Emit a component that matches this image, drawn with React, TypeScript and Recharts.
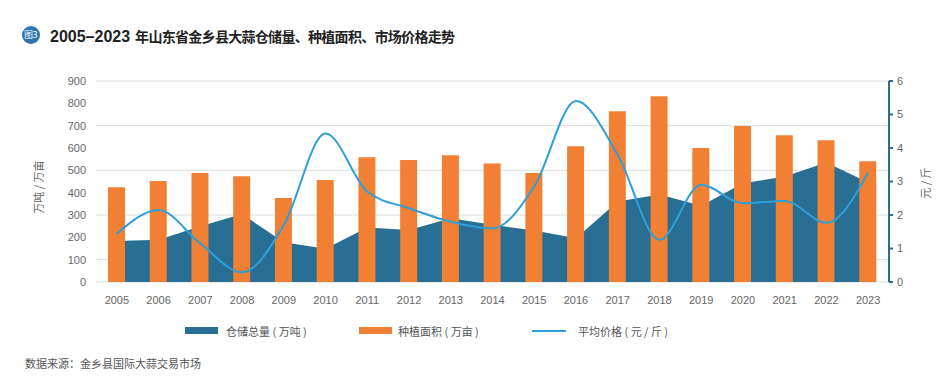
import React from 'react';
import { ComposedChart, Area, Bar, Line, XAxis, YAxis, CartesianGrid } from 'recharts';

const years = ['2005', '2006', '2007', '2008', '2009', '2010', '2011', '2012', '2013', '2014', '2015', '2016', '2017', '2018', '2019', '2020', '2021', '2022', '2023'];
const storage = [184, 189, 250, 304, 178, 149, 244, 233, 286, 256, 231, 196, 361, 392, 341, 442, 472, 535, 446];
const plantingArea = [424, 452, 488, 474, 376, 457, 559, 546, 568, 531, 488, 608, 765, 832, 600, 698, 657, 635, 541];
const price = [1.44, 2.15, 1.15, 0.29, 1.7, 4.43, 2.7, 2.2, 1.8, 1.6, 2.85, 5.4, 3.8, 1.26, 2.9, 2.35, 2.42, 1.77, 3.26];
const leftTicks = [0, 100, 200, 300, 400, 500, 600, 700, 800, 900];
const rightTicks = [0, 1, 2, 3, 4, 5, 6];

const titleDigits = '2005–2023';
const titleText = '年山东省金乡县大蒜仓储量、种植面积、市场价格走势';
const leftAxisTitle = '万吨 / 万亩';
const rightAxisTitle = '元 / 斤';
const sourceText = '数据来源：金乡县国际大蒜交易市场';

const C_AREA = '#286f93';
const C_BAR = '#f17f34';
const C_LINE = '#2e9fd7';
const C_AXIS = '#2b6d8e';

const legendItems = [
  { label: '仓储总量 ( 万吨 )', color: C_AREA, kind: 'rect', x: 185, tx: 226 },
  { label: '种植面积 ( 万亩 )', color: C_BAR, kind: 'rect', x: 359, tx: 398 },
  { label: '平均价格 ( 元 / 斤 )', color: C_LINE, kind: 'line', x: 532, tx: 578 },
];

const data = years.map((y, i) => ({ year: y, storage: storage[i], area: plantingArea[i], price: price[i] }));

const SANS = '"Liberation Sans", Arial, sans-serif';
const CJK = '"Noto Sans CJK SC", "Noto Sans", sans-serif';

export default function App() {
  return (
    <div style={{ position: 'absolute', left: 0, top: 0, width: 952, height: 377, background: '#fff', overflow: 'hidden' }}>
      <div style={{ position: 'absolute', left: 0, top: 0 }}>
        <ComposedChart width={952} height={377} data={data} margin={{ top: 81, right: 0, bottom: 65, left: 0 }}>
          <CartesianGrid yAxisId="left" vertical={false} stroke="#dcdcdc" strokeWidth={1} />
          <XAxis dataKey="year" tickLine={false} axisLine={false} tickSize={0} tickMargin={14} height={30} interval={0}
            tick={{ fontSize: 11, fill: '#666', fontFamily: SANS }} />
          <YAxis yAxisId="left" domain={[0, 900]} ticks={leftTicks} width={96} axisLine={false} tickLine={false}
            tickSize={0} tickMargin={10} tick={{ fontSize: 11, fill: '#666', fontFamily: SANS }} />
          <YAxis yAxisId="right" orientation="right" domain={[0, 6]} ticks={rightTicks} width={63}
            axisLine={{ stroke: C_AXIS, strokeWidth: 2 }} tickLine={{ stroke: C_AXIS, strokeWidth: 2 }}
            tickSize={4} tickMargin={4} tick={{ fontSize: 11, fill: '#666', fontFamily: SANS }} />
          <Area yAxisId="left" type="linear" dataKey="storage" fill={C_AREA} fillOpacity={1} stroke="none" isAnimationActive={false} />
          <Bar yAxisId="left" dataKey="area" fill={C_BAR} barSize={17} isAnimationActive={false} />
          <Line yAxisId="right" type="monotone" dataKey="price" stroke={C_LINE} strokeWidth={2} dot={false} isAnimationActive={false} />
        </ComposedChart>
      </div>

      {/* Title */}
      <div style={{ position: 'absolute', left: 21.5, top: 26, width: 18, height: 18, borderRadius: 9, background: '#2b76ae', color: '#fff', fontFamily: CJK, fontSize: 9, lineHeight: '18px', textAlign: 'center', letterSpacing: -0.5 }}>图3</div>
      <div style={{ position: 'absolute', left: 50, top: 26, height: 20, lineHeight: '20px', whiteSpace: 'nowrap', color: '#222', fontWeight: 'bold' }}>
        <span style={{ fontFamily: SANS, fontSize: 16 }}>{titleDigits}</span>
        <span style={{ fontFamily: CJK, fontSize: 14, letterSpacing: -0.7, marginLeft: 5 }}>{titleText}</span>
      </div>

      {/* Axis titles */}
      <div style={{ position: 'absolute', left: 38, top: 187, width: 0, height: 0 }}>
        <div style={{ position: 'absolute', transform: 'translate(-50%, -50%) rotate(-90deg)', whiteSpace: 'nowrap', fontFamily: CJK, fontSize: 11, color: '#666' }}>{leftAxisTitle}</div>
      </div>
      <div style={{ position: 'absolute', left: 925, top: 183, width: 0, height: 0 }}>
        <div style={{ position: 'absolute', transform: 'translate(-50%, -50%) rotate(-90deg)', whiteSpace: 'nowrap', fontFamily: CJK, fontSize: 11, color: '#666' }}>{rightAxisTitle}</div>
      </div>

      {/* Legend */}
      {legendItems.map((it) => (
        <React.Fragment key={it.label}>
          {it.kind === 'rect' ? (
            <div style={{ position: 'absolute', left: it.x, top: 327, width: 33, height: 7, background: it.color }} />
          ) : (
            <div style={{ position: 'absolute', left: it.x, top: 330, width: 34, height: 2, background: it.color }} />
          )}
          <div style={{ position: 'absolute', left: it.tx, top: 323, height: 16, lineHeight: '16px', whiteSpace: 'nowrap', fontFamily: CJK, fontSize: 11, color: '#555' }}>{it.label}</div>
        </React.Fragment>
      ))}

      {/* Source */}
      <div style={{ position: 'absolute', left: 25, top: 355, height: 16, lineHeight: '16px', whiteSpace: 'nowrap', fontFamily: CJK, fontSize: 11, color: '#555' }}>{sourceText}</div>
    </div>
  );
}
